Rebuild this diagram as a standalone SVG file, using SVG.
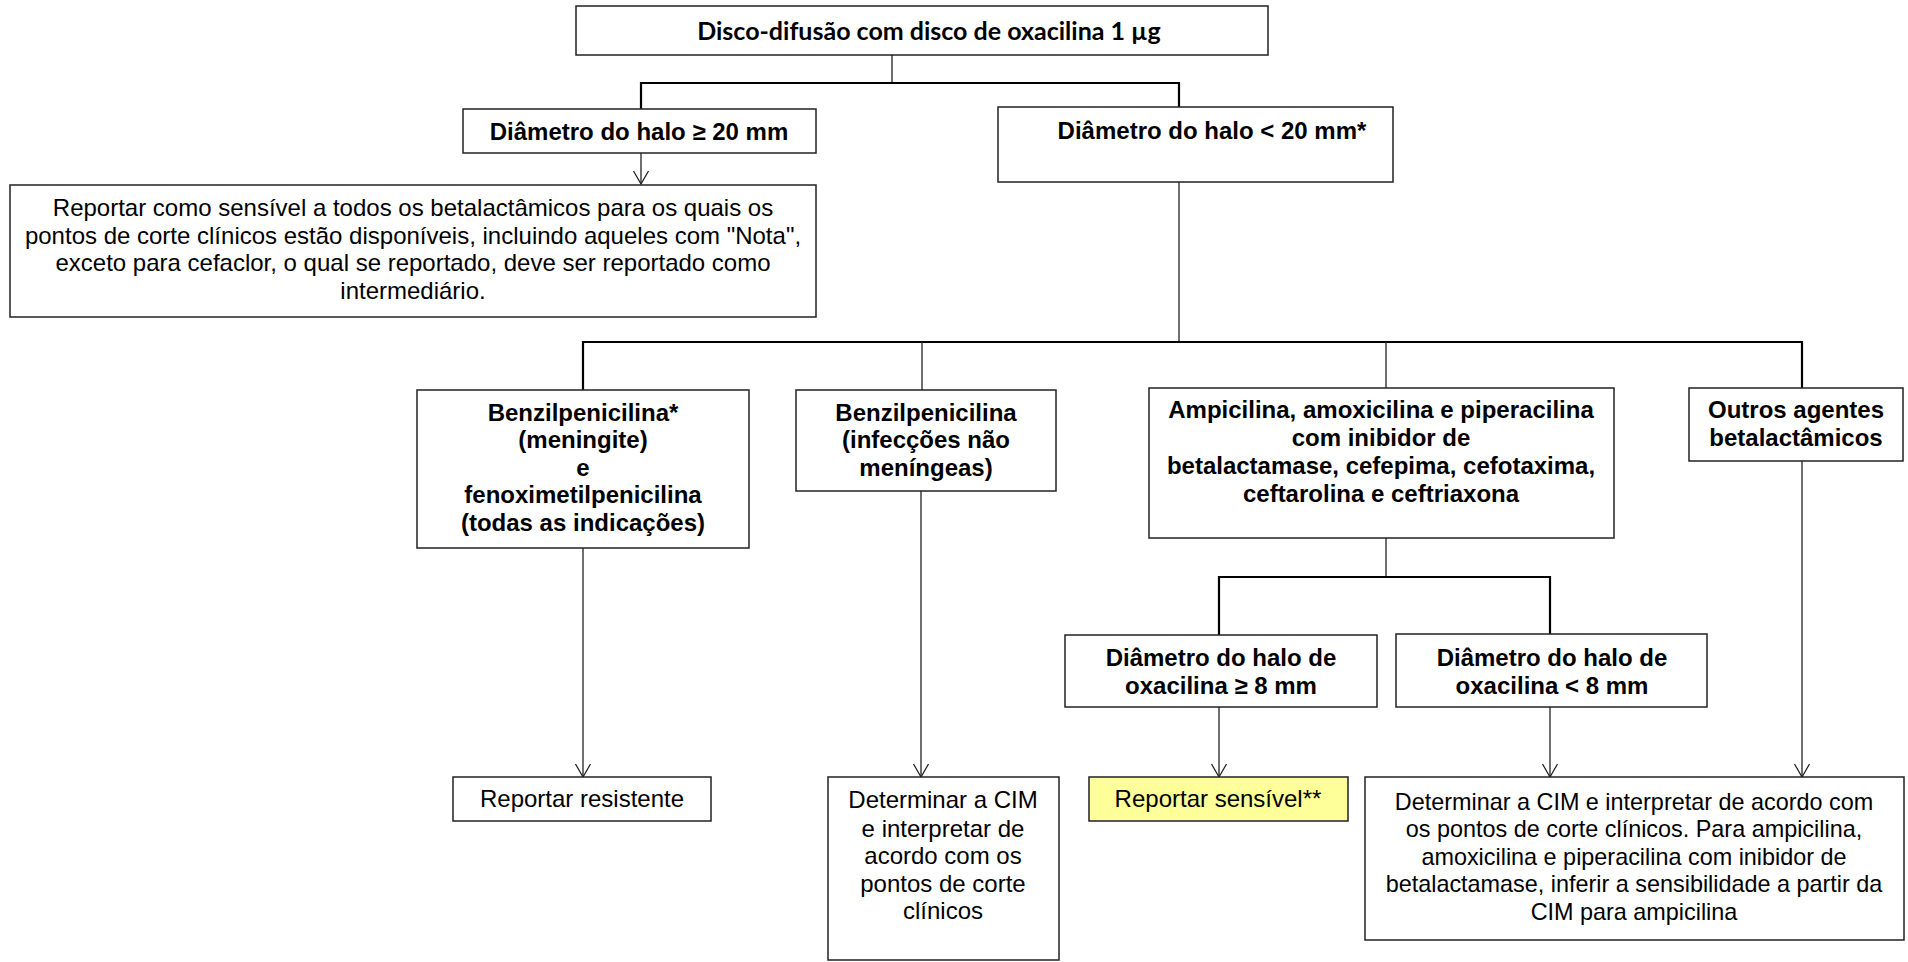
<svg xmlns="http://www.w3.org/2000/svg" width="1908" height="962" viewBox="0 0 1908 962">
<style>
.box{fill:#fff;stroke:#222;stroke-width:1.5}
.yel{fill:#ffff99;stroke:#222;stroke-width:1.5}
.t{font-family:"Liberation Sans",Arial,sans-serif;font-size:24px;fill:#000;text-anchor:middle}
.s{font-size:23.4px}
.b{font-weight:bold}
.title{font-family:Lato,"Liberation Sans",sans-serif;font-size:25px;font-weight:bold;fill:#000;text-anchor:middle}
.ln{fill:none;stroke:#222;stroke-width:1.3}
.bus{fill:none;stroke:#000;stroke-width:2.2}
.arr{fill:none;stroke:#222;stroke-width:1.3;marker-end:url(#ah)}
</style>
<defs>
<marker id="ah" markerUnits="userSpaceOnUse" markerWidth="20" markerHeight="20" viewBox="-16 -10 20 20" refX="0" refY="0" orient="auto">
<path d="M-13,-7.5 L0,0 L-13,7.5" fill="none" stroke="#222" stroke-width="1.3"/>
</marker>
</defs>
<rect width="1908" height="962" fill="#fff"/>
<g id="connectors">
<line class="ln" x1="892" y1="55" x2="892" y2="83"/>
<polyline class="bus" points="641,109 641,83 1179,83 1179,107"/>
<path class="arr" d="M641,153 L641,184"/>
<line class="ln" x1="1179" y1="182" x2="1179" y2="342"/>
<polyline class="bus" points="583,390 583,342 1802,342 1802,388"/>
<line class="ln" x1="922" y1="342" x2="922" y2="390"/>
<line class="ln" x1="1386" y1="342" x2="1386" y2="388"/>
<path class="arr" d="M583,548 L583,777"/>
<path class="arr" d="M921,491 L921,777"/>
<line class="ln" x1="1386" y1="538" x2="1386" y2="577"/>
<polyline class="bus" points="1219,635 1219,577 1550,577 1550,634"/>
<path class="arr" d="M1219,707 L1219,777"/>
<path class="arr" d="M1550,707 L1550,777"/>
<path class="arr" d="M1802,461 L1802,777"/>
</g>
<g id="n-title">
<rect class="box" x="576" y="6" width="692" height="49"/>
<text class="title" x="929" y="40">Disco-difusão com disco de oxacilina 1 µg</text>
</g>
<g id="n-ge20">
<rect class="box" x="463" y="109" width="353" height="44"/>
<text class="t b" x="639" y="140">Diâmetro do halo ≥ 20 mm</text>
</g>
<g id="n-lt20">
<rect class="box" x="998" y="107" width="395" height="75"/>
<text class="t b" x="1212" y="139">Diâmetro do halo &lt; 20 mm*</text>
</g>
<g id="n-sens-all">
<rect class="box" x="10" y="185" width="806" height="132"/>
<text class="t"><tspan x="413" y="216">Reportar como sensível a todos os betalactâmicos para os quais os</tspan><tspan x="413" y="244">pontos de corte clínicos estão disponíveis, incluindo aqueles com "Nota",</tspan><tspan x="413" y="271">exceto para cefaclor, o qual se reportado, deve ser reportado como</tspan><tspan x="413" y="299">intermediário.</tspan></text>
</g>
<g id="n-benzil-men">
<rect class="box" x="417" y="390" width="332" height="158"/>
<text class="t b"><tspan x="583" y="421">Benzilpenicilina*</tspan><tspan x="583" y="448">(meningite)</tspan><tspan x="583" y="476">e</tspan><tspan x="583" y="503">fenoximetilpenicilina</tspan><tspan x="583" y="531">(todas as indicações)</tspan></text>
</g>
<g id="n-benzil-nmen">
<rect class="box" x="796" y="390" width="260" height="101"/>
<text class="t b"><tspan x="926" y="421">Benzilpenicilina</tspan><tspan x="926" y="448">(infecções não</tspan><tspan x="926" y="476">meníngeas)</tspan></text>
</g>
<g id="n-ampi">
<rect class="box" x="1149" y="388" width="465" height="150"/>
<text class="t b"><tspan x="1381" y="418">Ampicilina, amoxicilina e piperacilina</tspan><tspan x="1381" y="446">com inibidor de</tspan><tspan x="1381" y="474">betalactamase, cefepima, cefotaxima,</tspan><tspan x="1381" y="502">ceftarolina e ceftriaxona</tspan></text>
</g>
<g id="n-outros">
<rect class="box" x="1689" y="388" width="214" height="73"/>
<text class="t b"><tspan x="1796" y="418">Outros agentes</tspan><tspan x="1796" y="446">betalactâmicos</tspan></text>
</g>
<g id="n-ge8">
<rect class="box" x="1065" y="635" width="312" height="72"/>
<text class="t b"><tspan x="1221" y="666">Diâmetro do halo de</tspan><tspan x="1221" y="694">oxacilina ≥ 8 mm</tspan></text>
</g>
<g id="n-lt8">
<rect class="box" x="1396" y="634" width="311" height="73"/>
<text class="t b"><tspan x="1552" y="666">Diâmetro do halo de</tspan><tspan x="1552" y="694">oxacilina &lt; 8 mm</tspan></text>
</g>
<g id="n-resist">
<rect class="box" x="453" y="777" width="258" height="44"/>
<text class="t" x="582" y="807">Reportar resistente</text>
</g>
<g id="n-cim1">
<rect class="box" x="828" y="777" width="231" height="183"/>
<text class="t"><tspan x="943" y="808">Determinar a CIM</tspan><tspan x="943" y="837">e interpretar de</tspan><tspan x="943" y="864">acordo com os</tspan><tspan x="943" y="892">pontos de corte</tspan><tspan x="943" y="919">clínicos</tspan></text>
</g>
<g id="n-sens">
<rect class="yel" x="1089" y="777" width="259" height="44"/>
<text class="t" x="1218" y="807">Reportar sensível**</text>
</g>
<g id="n-cim2">
<rect class="box" x="1365" y="777" width="539" height="163"/>
<text class="t s"><tspan x="1634" y="810">Determinar a CIM e interpretar de acordo com</tspan><tspan x="1634" y="837">os pontos de corte clínicos. Para ampicilina,</tspan><tspan x="1634" y="865">amoxicilina e piperacilina com inibidor de</tspan><tspan x="1634" y="892">betalactamase, inferir a sensibilidade a partir da</tspan><tspan x="1634" y="920">CIM para ampicilina</tspan></text>
</g>
</svg>
